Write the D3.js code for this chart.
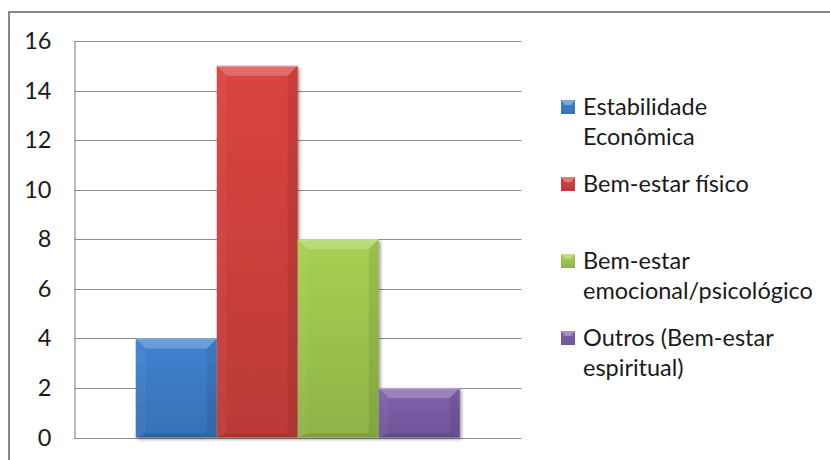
<!DOCTYPE html>
<html>
<head>
<meta charset="utf-8">
<script src="https://cdn.jsdelivr.net/npm/d3@7"></script>
<style>
  body { margin: 0; background: #fff; }
  svg { display: block; font-family: Lato, "Open Sans", sans-serif; }
</style>
</head>
<body>
<div id="graph"></div>
<script>
// Data
const seriesNames = ["Estabilidade Econômica", "Bem-estar físico", "Bem-estar emocional/psicológico", "Outros (Bem-estar espiritual)"];
const seriesValues = [4, 15, 8, 2];
const seriesColors = ["#3f7fcc", "#d4423e", "#a2cb50", "#7d5eaa"];
const yTicks = [0, 2, 4, 6, 8, 10, 12, 14, 16];

const width = 830, height = 460;
const plot = { left: 74, top: 41, right: 521.5, bottom: 437.5 };
const fontSize = 23.5;

const svg = d3.select("#graph")
  .append("svg")
    .attr("width", width)
    .attr("height", height);

const defs = svg.append("defs");

// soft drop shadow under the bars
const shadow = defs.append("filter")
    .attr("id", "shadow")
    .attr("x", "-10%").attr("y", "-10%")
    .attr("width", "130%").attr("height", "130%");
shadow.append("feDropShadow")
    .attr("dx", 2).attr("dy", 2)
    .attr("stdDeviation", 1.8)
    .attr("flood-color", "#000")
    .attr("flood-opacity", 0.35);

// vertical gradient per series
seriesColors.forEach(function (c, i) {
  const g = defs.append("linearGradient")
      .attr("id", "grad" + i)
      .attr("x1", 0).attr("y1", 0).attr("x2", 0).attr("y2", 1);
  g.append("stop").attr("offset", "0%").attr("stop-color", d3.color(c).brighter(0.08));
  g.append("stop").attr("offset", "100%").attr("stop-color", d3.color(c).darker(0.35));
});

// outer chart frame (runs off the right and bottom edge)
svg.append("rect")
    .attr("x", 9).attr("y", 12)
    .attr("width", 900).attr("height", 600)
    .attr("fill", "none")
    .attr("stroke", "#878787")
    .attr("stroke-width", 2);

// Scales
const yscale = d3.scaleLinear()
    .domain([0, 16])
    .range([plot.bottom, plot.top]);

const xgroup = d3.scaleBand()
    .domain(["all"])
    .range([plot.left, plot.right])
    .padding(0.16);

const xseries = d3.scaleBand()
    .domain(seriesNames)
    .range([xgroup("all"), xgroup("all") + xgroup.bandwidth()])
    .padding(0);

// Gridlines
svg.append("g")
  .selectAll("line")
  .data(yTicks)
  .enter()
  .append("line")
    .attr("x1", plot.left)
    .attr("x2", plot.right)
    .attr("y1", d => Math.round(yscale(d)) + 0.5)
    .attr("y2", d => Math.round(yscale(d)) + 0.5)
    .attr("stroke", "#8e8e8e")
    .attr("stroke-width", 1.2);

// Y axis
const y_axis = d3.axisLeft()
    .scale(yscale)
    .tickValues(yTicks)
    .tickSize(0)
    .tickPadding(23);

const yAxisG = svg.append("g")
    .attr("transform", "translate(" + (plot.left + 0.5) + ",0)")
    .call(y_axis);
yAxisG.select(".domain").attr("stroke", "#8e8e8e").attr("stroke-width", 1.2);
yAxisG.selectAll("text")
    .attr("font-family", "Lato, sans-serif")
    .attr("font-size", fontSize)
    .attr("fill", "#1a1a1a");

// Bars
const bars = svg.append("g")
  .selectAll("g.bar")
  .data(seriesValues)
  .enter()
  .append("g")
    .attr("class", "bar");

bars.append("rect")
    .attr("x", (d, i) => xseries(seriesNames[i]))
    .attr("y", d => yscale(d))
    .attr("width", xseries.bandwidth())
    .attr("height", d => yscale(0) - yscale(d))
    .attr("fill", (d, i) => "url(#grad" + i + ")")
    .attr("filter", "url(#shadow)");

// bevel facets on each bar
function facets(d, i) {
  const x = xseries(seriesNames[i]), w = xseries.bandwidth();
  const y = yscale(d), h = yscale(0) - yscale(d);
  const b = Math.min(10, h / 2);
  const bb = Math.min(4, h / 4);
  return [
    { pts: [[x, y], [x + w, y], [x + w - b, y + b], [x + b, y + b]], fill: "#fff", op: 0.22 },
    { pts: [[x, y], [x + b, y + b], [x + b, y + h - bb], [x, y + h]], fill: "#fff", op: 0.04 },
    { pts: [[x + w, y], [x + w, y + h], [x + w - b, y + h - bb], [x + w - b, y + b]], fill: "#000", op: 0.08 },
    { pts: [[x, y + h], [x + b, y + h - bb], [x + w - b, y + h - bb], [x + w, y + h]], fill: "#000", op: 0.12 },
    { pts: [[x, y], [x + w, y], [x + w, y + 1.2], [x, y + 1.2]], fill: "#fff", op: 0.25 }
  ];
}

bars.each(function (d, i) {
  d3.select(this).selectAll("polygon")
    .data(facets(d, i))
    .enter()
    .append("polygon")
      .attr("points", f => f.pts.map(p => p.join(",")).join(" "))
      .attr("fill", f => f.fill)
      .attr("fill-opacity", f => f.op);
});

// Legend
const legendX = 561, legendTop = 115, legendPitch = 77, lineH = 30, maxTextW = 230;

const legend = svg.append("g")
  .selectAll("g.item")
  .data(seriesNames)
  .enter()
  .append("g")
    .attr("class", "item")
    .attr("transform", (d, i) => "translate(" + legendX + "," + (legendTop + i * legendPitch) + ")");

legend.append("rect")
    .attr("x", 0).attr("y", -15)
    .attr("width", 14).attr("height", 14)
    .attr("fill", (d, i) => "url(#grad" + i + ")");
legend.append("polygon")
    .attr("points", "0,-15 14,-15 10,-10 4,-10")
    .attr("fill", "#fff")
    .attr("fill-opacity", 0.3);

legend.append("text")
    .attr("x", 22)
    .attr("y", 0)
    .attr("font-size", fontSize)
    .attr("fill", "#1a1a1a")
    .each(function (name) {
      // simple word wrap
      const t = d3.select(this);
      const words = name.split(" ");
      let line = [];
      let tspan = t.append("tspan").attr("x", 22).attr("dy", 0);
      words.forEach(function (w) {
        line.push(w);
        tspan.text(line.join(" "));
        if (tspan.node().getComputedTextLength() > maxTextW && line.length > 1) {
          line.pop();
          tspan.text(line.join(" "));
          line = [w];
          tspan = t.append("tspan").attr("x", 22).attr("dy", lineH).text(w);
        }
      });
    });
</script>
</body>
</html>
